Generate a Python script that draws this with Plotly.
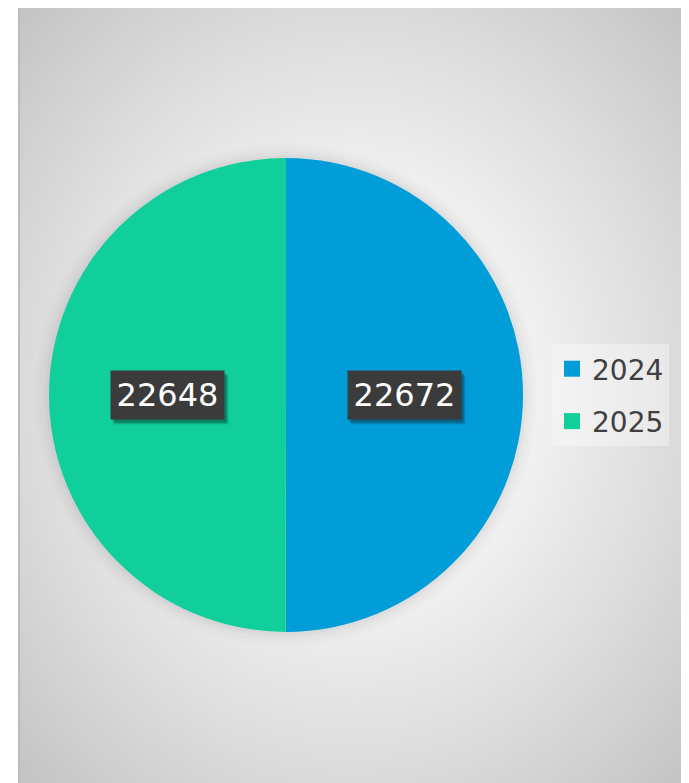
import base64, math
import plotly.graph_objects as go

# ---- data ----
years = ["2024", "2025"]
counts = [22672, 22648]
colors = ["#009DD9", "#10CF9B"]

OFF = 8  # page body margin
W, H = 689 - OFF, 783 - OFF
def px(x): return (x - OFF) / W
def py(y): return 1 - (y - OFF) / H

# pie geometry (pixels in the screenshot)
CX, CY, R = 286, 395, 237

# radial gradient background panel
svg = """<svg xmlns='http://www.w3.org/2000/svg' width='671' height='778' viewBox='0 0 671 778' preserveAspectRatio='none'>
<defs><radialGradient id='g' cx='0.5' cy='0.5' r='0.71'>
<stop offset='0' stop-color='#ffffff'/>
<stop offset='0.22' stop-color='#fcfcfc'/>
<stop offset='0.7' stop-color='#dadada'/>
<stop offset='1' stop-color='#c3c3c3'/>
</radialGradient></defs>
<rect x='0' y='0' width='671' height='778' fill='url(#g)'/></svg>"""
uri = "data:image/svg+xml;base64," + base64.b64encode(svg.encode()).decode()

fig = go.Figure()
fig.add_trace(go.Pie(
    labels=years, values=counts,
    marker=dict(colors=colors, line=dict(width=0)),
    textinfo="none", hoverinfo="label+value",
    sort=True, direction="clockwise", rotation=0,
    domain=dict(x=[px(CX - R), px(CX + R)], y=[py(CY + R), py(CY - R)]),
    showlegend=False,
))

# legend entries (dummy traces for larger square markers)
for yr, c in zip(years, colors):
    fig.add_trace(go.Scatter(
        x=[None], y=[None], mode="markers", name=yr, legendgroup=yr,
        marker=dict(symbol="square", size=16, color=c),
    ))

# data label annotations
total = sum(counts)
order = sorted(range(len(counts)), key=lambda i: -counts[i])
start = 0.0
annots = []
for i in order:
    frac = counts[i] / total
    mid = (start + frac / 2) * 2 * math.pi
    start += frac
    lx = CX + 0.5 * R * math.sin(mid)
    ly = CY - 0.5 * R * math.cos(mid)
    common = dict(xref="paper", yref="paper", x=px(lx), y=py(ly),
                  xanchor="center", yanchor="middle", showarrow=False,
                  width=105, height=40, borderpad=4,
                  font=dict(family="DejaVu Sans", size=32, color="white"))
    for sx, sy, op in [(4, -5, 0.10), (3, -4, 0.14), (2, -3, 0.18)]:
        annots.append(dict(common, text=" ", bgcolor=f"rgba(0,0,0,{op})",
                           xshift=sx, yshift=sy,
                           font=dict(size=32, color="rgba(0,0,0,0)")))
    annots.append(dict(common, text=f"{counts[i]}", bgcolor="#3b3b3b"))

shapes = []
for dr, op in [(14, 0.012), (10, 0.016), (6, 0.02), (3, 0.025)]:
    shapes.append(dict(type="circle", xref="paper", yref="paper", layer="below",
                       x0=px(CX - R - dr), x1=px(CX + R + dr),
                       y0=py(CY + R + dr), y1=py(CY - R - dr),
                       fillcolor=f"rgba(0,0,0,{op})", line=dict(width=0)))
shapes.append(dict(type="line", xref="paper", yref="paper", x0=px(19), x1=px(19),
                   y0=-0.01, y1=py(5), line=dict(color="#bcbcbc", width=2)))
shapes.append(dict(type="line", xref="paper", yref="paper", x0=px(18), x1=1.01,
                   y0=py(6), y1=py(6), line=dict(color="#c4c4c4", width=2)))

fig.update_layout(
    width=W, height=H, autosize=False,
    margin=dict(l=0, r=0, t=0, b=0),
    paper_bgcolor="white", plot_bgcolor="rgba(0,0,0,0)",
    xaxis=dict(visible=False), yaxis=dict(visible=False),
    images=[dict(source=uri, xref="paper", yref="paper", x=px(18), y=py(5),
                 sizex=px(689) - px(18), sizey=py(5) - py(783),
                 xanchor="left", yanchor="top", sizing="stretch", layer="below")],
    shapes=shapes,
    annotations=annots,
    legend=dict(x=px(552), y=py(395), xanchor="left", yanchor="middle",
                bgcolor="rgba(255,255,255,0.35)", tracegroupgap=13,
                font=dict(family="DejaVu Sans", size=28, color="#404040"),
                itemclick=False, itemdoubleclick=False),
)

fig.write_html("out.html")
